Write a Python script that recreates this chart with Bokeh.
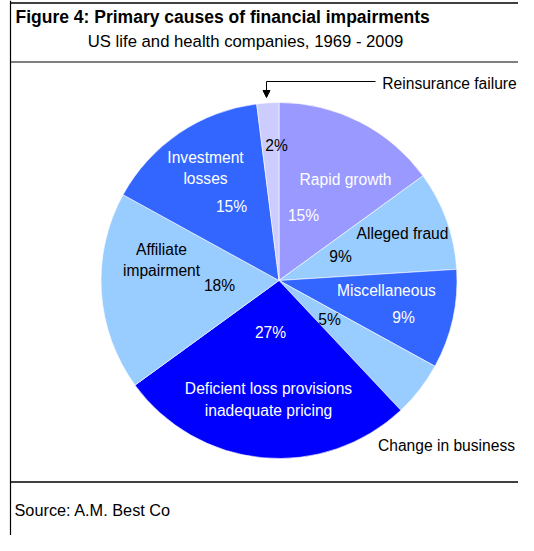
from bokeh.plotting import figure
from bokeh.models import Range1d, Arrow, NormalHead, ColumnDataSource
from bokeh.core.properties import value
from bokeh.embed import file_html
from bokeh.resources import INLINE
import numpy as np

# ---- data ----
categories = ["Rapid growth", "Alleged fraud", "Miscellaneous", "Change in business",
              "Deficient loss provisions inadequate pricing", "Affiliate impairment",
              "Investment losses", "Reinsurance failure"]
shares = [15, 9, 9, 5, 27, 18, 15, 2]
slice_colors = ["#9999FF", "#99CCFF", "#3366FF", "#99CCFF", "#0000FF", "#99CCFF", "#3366FF", "#CCCCFF"]

title = "Figure 4: Primary causes of financial impairments"
subtitle = "US life and health companies, 1969 - 2009"
source_note = "Source: A.M. Best Co"

# ---- layout (reference pixel coords converted to plot units) ----
W, H = 518, 535
def X(ix):
    return ix
def Y(iy):
    return H - iy

FONT = value("Liberation Sans")

p = figure(width=W, height=H, output_backend="svg", toolbar_location=None,
           x_range=Range1d(0, W), y_range=Range1d(0, H),
           x_axis_type=None, y_axis_type=None, min_border=0)
p.grid.visible = False
p.outline_line_color = None
p.background_fill_color = "white"

# pie
frac = np.array(shares, dtype=float) / sum(shares)
cum = np.concatenate([[0], np.cumsum(frac)])
start = np.pi / 2 - 2 * np.pi * cum[:-1]
end = np.pi / 2 - 2 * np.pi * cum[1:]
src = ColumnDataSource(dict(start=start, end=end, color=slice_colors, cat=categories, share=shares))
p.wedge(x=X(278.5), y=Y(280), radius=178, start_angle="start", end_angle="end",
        direction="clock", fill_color="color", line_color="white", line_width=0.6, source=src)

# frame lines
p.line([X(10), X(10)], [Y(0), Y(560)], line_color="black", line_width=1.2)
p.line([X(10), X(540)], [Y(2.5), Y(2.5)], line_color="black", line_width=1.5)
p.line([X(10), X(540)], [Y(61.5), Y(61.5)], line_color="black", line_width=1.2)
p.line([X(10), X(540)], [Y(481.5), Y(481.5)], line_color="black", line_width=1.5)

# titles
p.text(x=[X(15)], y=[Y(16)], text=[title], text_font=FONT, text_font_size=value("17.5px"),
       text_font_style="bold", text_baseline="middle", text_align="left", text_color="black")
p.text(x=[X(245)], y=[Y(41)], text=[subtitle], text_font=FONT, text_font_size=value("16.7px"),
       text_baseline="middle", text_align="center", text_color="black")
p.text(x=[X(14)], y=[Y(509)], text=[source_note], text_font=FONT, text_font_size=value("16.3px"),
       text_baseline="middle", text_align="left", text_color="black")

# leader for Reinsurance failure
p.line([X(375), X(266)], [Y(81), Y(81)], line_color="black", line_width=1)
p.add_layout(Arrow(end=NormalHead(size=7, fill_color="black", line_color="black"),
                   x_start=X(266), y_start=Y(81), x_end=X(266), y_end=Y(97),
                   line_color="black", line_width=1))

# slice labels (text, x, y, color)
pct = [f"{s}%" for s in shares]
labels = [
    ("Reinsurance failure", 449, 83, "black"),
    (pct[7], 276, 145, "black"),
    ("Rapid growth", 345, 179, "white"),
    (pct[0], 303, 215, "white"),
    ("Alleged fraud", 402, 233, "black"),
    (pct[1], 340, 256, "black"),
    ("Miscellaneous", 386, 290, "white"),
    (pct[2], 403, 317, "white"),
    (pct[3], 329, 319, "black"),
    ("Change in business", 446, 445, "black"),
    (pct[4], 270, 332, "white"),
    ("Deficient loss provisions", 268, 388, "white"),
    ("inadequate pricing", 268, 410, "white"),
    ("Affiliate", 161, 249, "black"),
    ("impairment", 161, 270, "black"),
    (pct[5], 219, 285, "black"),
    ("Investment", 205, 157, "white"),
    ("losses", 205, 178, "white"),
    (pct[6], 231, 206, "white"),
]
lsrc = ColumnDataSource(dict(
    x=[X(l[1]) for l in labels], y=[Y(l[2]) for l in labels],
    text=[l[0] for l in labels], color=[l[3] for l in labels]))
p.text(x="x", y="y", text="text", text_color="color", source=lsrc, text_font=FONT,
       text_font_size=value("15.6px"), text_baseline="middle", text_align="center")

open("out.html", "w").write(file_html(p, INLINE))
